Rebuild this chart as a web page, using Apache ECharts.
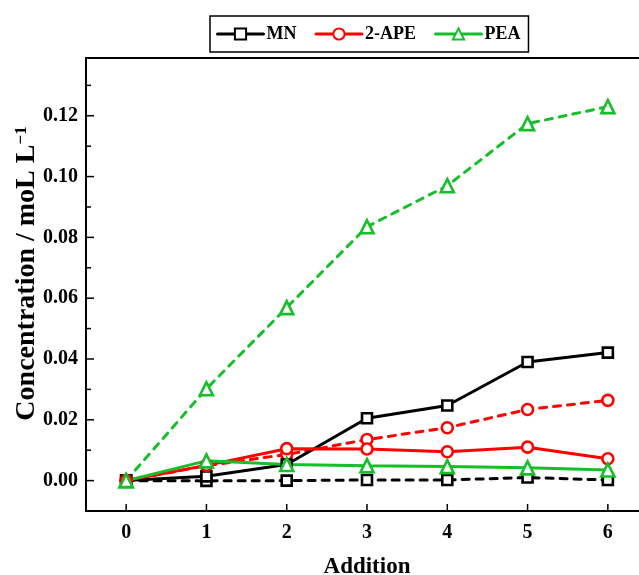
<!DOCTYPE html>
<html>
<head>
  <meta charset="utf-8">
  <script src="https://cdn.jsdelivr.net/npm/echarts@6/dist/echarts.min.js"></script>
  <style>
    html, body { margin: 0; padding: 0; background: #fff; }
    #chart { width: 639px; height: 575px; }
  </style>
</head>
<body>
  <div id="chart"></div>
  <script>
    var additions = [0, 1, 2, 3, 4, 5, 6];
    var mnSolid   = [0, 0.0014, 0.0053, 0.0205, 0.0247, 0.0390, 0.0421];
    var mnDash    = [0, -0.0001, 0, 0.0002, 0.0002, 0.0010, 0.0002];
    var apeSolid  = [0, 0.0050, 0.0105, 0.0104, 0.0095, 0.0110, 0.0072];
    var apeDash   = [0, 0.0049, 0.0086, 0.0135, 0.0174, 0.0234, 0.0264];
    var peaSolid  = [0, 0.0065, 0.0053, 0.0049, 0.0046, 0.0042, 0.0035];
    var peaDash   = [0, 0.0302, 0.0569, 0.0835, 0.0970, 0.1174, 0.1230];
    var yMajor = [0, 0.02, 0.04, 0.06, 0.08, 0.10, 0.12];
    var yMinor = [-0.01, 0.01, 0.03, 0.05, 0.07, 0.09, 0.11, 0.13];

    var font = 'Liberation Serif';
    var xMin = -0.5, xMax = 6.5, yMin = -0.01, yMax = 0.139;
    function pairs(vals) {
      return vals.map(function (v, i) { return [additions[i], v]; });
    }
    function line(name, vals, color, symbol, size, dashed) {
      return {
        name: name,
        type: 'line',
        data: pairs(vals),
        symbol: symbol,
        symbolSize: size,
        showSymbol: true,
        lineStyle: { color: color, width: 3, type: dashed ? [7, 7] : 'solid', cap: 'round' },
        itemStyle: { color: '#fff', borderColor: color, borderWidth: 2.6 },
        emphasis: { disabled: true },
        z: dashed ? 2 : 3
      };
    }

    // inward tick marks, placed through the axes' own scales
    function ticks(points, dx, dy) {
      return {
        type: 'custom',
        silent: true,
        clip: false,
        z: 1,
        data: points,
        renderItem: function (params, api) {
          var p = api.coord([api.value(0), api.value(1)]);
          return {
            type: 'line',
            shape: { x1: p[0], y1: p[1], x2: p[0] + dx, y2: p[1] + dy },
            style: { stroke: '#000', lineWidth: 1.5 }
          };
        }
      };
    }

    var chart = echarts.init(document.getElementById('chart'));
    chart.setOption({
      animation: false,
      legend: {
        data: ['MN', '2-APE', 'PEA'],
        left: 210, top: 16,
        borderColor: '#000', borderWidth: 1.5,
        padding: [9, 8, 9, 6],
        itemWidth: 46, itemHeight: 14, itemGap: 18,
        lineStyle: { width: 3 },
        textStyle: { fontFamily: font, fontWeight: 'bold', fontSize: 18, color: '#000', padding: [0, 0, 0, -2] }
      },
      grid: {
        left: 86, right: -9, top: 58, bottom: 64,
        outerBoundsMode: 'none',
        show: true, borderColor: '#000', borderWidth: 2, backgroundColor: 'transparent'
      },
      xAxis: {
        type: 'value', min: xMin, max: xMax,
        name: 'Addition', nameLocation: 'middle', nameGap: 45,
        nameTextStyle: { fontFamily: font, fontWeight: 'bold', fontSize: 23, color: '#000' },
        axisLine: { show: true, onZero: false, lineStyle: { color: '#000', width: 2 } },
        axisTick: { show: false },
        axisLabel: { customValues: additions, margin: 12, fontFamily: font, fontWeight: 'bold', fontSize: 20, color: '#000' },
        splitLine: { show: false }
      },
      yAxis: {
        type: 'value', min: yMin, max: yMax,
        name: 'Concentration / moL L{s|\u22121}', nameLocation: 'middle', nameGap: 45,
        nameMoveOverlap: false,
        nameTextStyle: {
          fontFamily: font, fontWeight: 'bold', fontSize: 28, color: '#000',
          padding: [0, 0, 0, 22],
          rich: { s: { fontFamily: font, fontWeight: 'bold', fontSize: 17, color: '#000', verticalAlign: 'top', lineHeight: 18 } }
        },
        axisLine: { show: true, onZero: false, lineStyle: { color: '#000', width: 2 } },
        axisTick: { show: false },
        axisLabel: {
          customValues: yMajor, margin: 8,
          fontFamily: font, fontWeight: 'bold', fontSize: 20, color: '#000',
          formatter: function (v) { return v.toFixed(2); }
        },
        splitLine: { show: false }
      },
      series: [
        ticks(yMajor.map(function (v) { return [xMin, v]; }), 8, 0),
        ticks(yMinor.map(function (v) { return [xMin, v]; }), 5, 0),
        ticks(additions.map(function (v) { return [v, yMin]; }), 0, -7),
        line('MN ', mnDash, '#000', 'rect', 10, true),
        line('2-APE ', apeDash, '#ff0000', 'circle', 11, true),
        line('PEA ', peaDash, '#16be2a', 'triangle', 13, true),
        line('MN', mnSolid, '#000', 'rect', 10, false),
        line('2-APE', apeSolid, '#ff0000', 'circle', 11, false),
        line('PEA', peaSolid, '#16be2a', 'triangle', 13, false)
      ]
    });
  </script>
</body>
</html>
